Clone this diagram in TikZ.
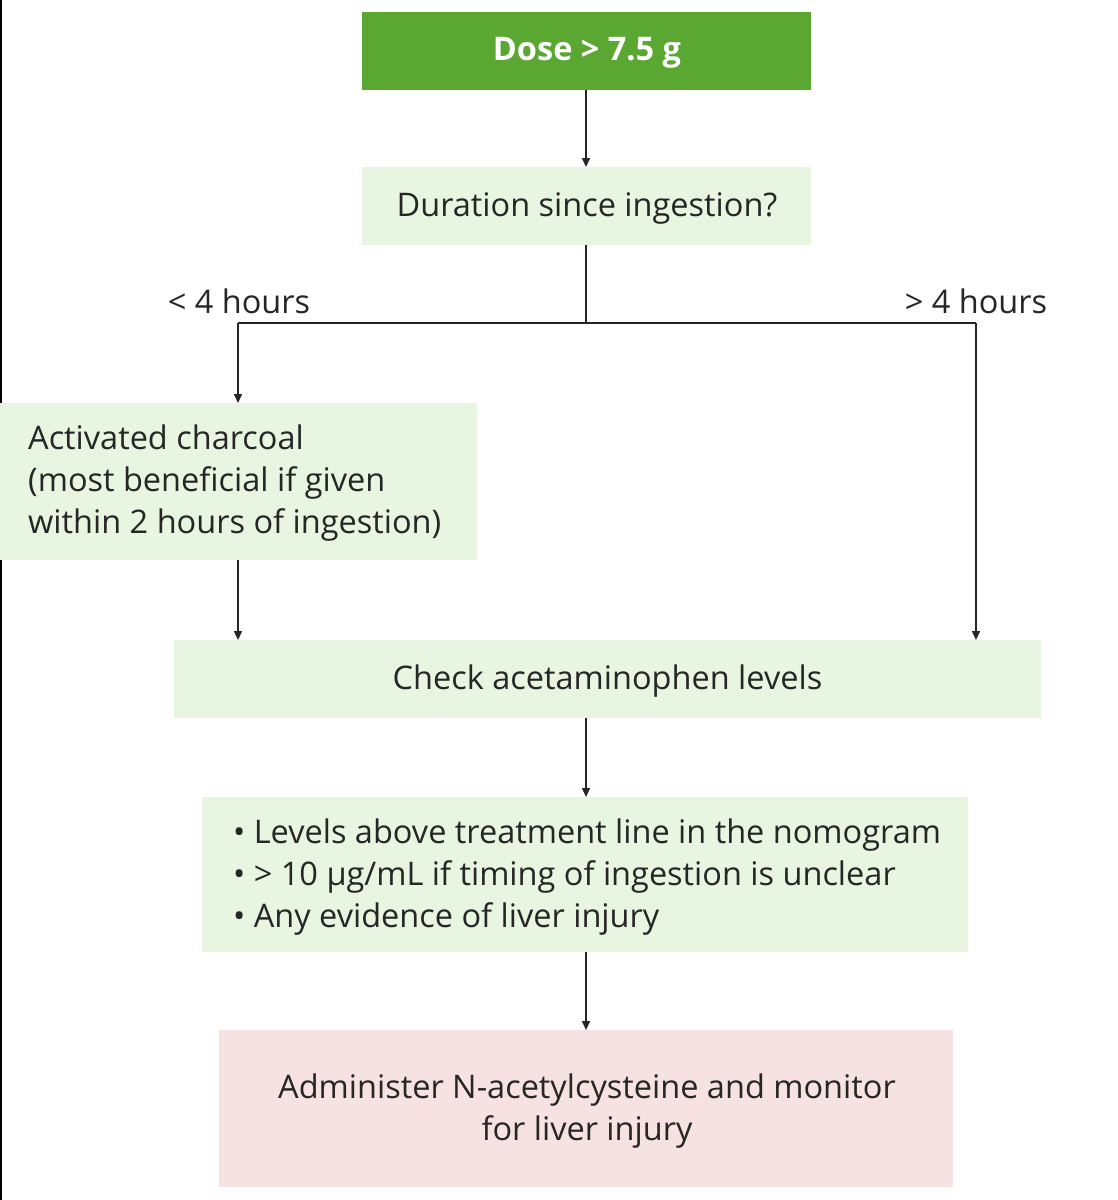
\documentclass[tikz,border=0pt]{standalone}
\usepackage{fontspec}
\setmainfont{Open Sans}
\usetikzlibrary{arrows.meta}
\definecolor{dosegreen}{HTML}{5AA832}
\definecolor{lightgreen}{HTML}{E8F5E1}
\definecolor{lightpink}{HTML}{F6E1E3}
\definecolor{txt}{HTML}{262626}
\begin{document}
\begin{tikzpicture}[x=1pt,y=-1pt,
  box/.style={inner sep=0pt, outer sep=0pt, text=txt},
  lbl/.style={inner sep=0pt, text=txt, font=\fontsize{32.5}{42}\selectfont},
  conn/.style={line width=1.5pt, draw=txt},
  arr/.style={conn, -{Triangle[length=9pt,width=8pt]}}]
\useasboundingbox (0,0) rectangle (1117,1200);
\fill[white] (0,0) rectangle (1117,1200);
\draw[line width=2.5pt, black] (1,0) -- (1,1200);
% boxes
\fill[dosegreen] (362,12) rectangle (811,90);
\node[box, text=white, font=\fontsize{32.5}{36}\selectfont\bfseries] (dose) at (587,53) {Dose > 7.5 g};
\coordinate (doseB) at (586,90);
\fill[lightgreen] (362,167) rectangle (811,245);
\node[lbl] (dur) at (587,208) {Duration since ingestion?};
\coordinate (durT) at (586,167);
\coordinate (durB) at (586,245);
\fill[lightgreen] (0,403) rectangle (477,560);
\node[lbl, anchor=west, align=left] (char) at (28,483) {Activated charcoal\\(most beneficial if given\\within 2 hours of ingestion)};
\coordinate (charT) at (238,403);
\coordinate (charB) at (238,560);
\fill[lightgreen] (174,640) rectangle (1041,718);
\node[lbl] (check) at (607.5,681) {Check acetaminophen levels};
\coordinate (checkTL) at (238,640);
\coordinate (checkTR) at (976,640);
\coordinate (checkB) at (586,718);
\fill[lightgreen] (202,797) rectangle (968,952);
\node[lbl, anchor=west, align=left] (crit) at (233,877) {\textbullet\ Levels above treatment line in the nomogram\\\textbullet\ > 10 µg/mL if timing of ingestion is unclear\\\textbullet\ Any evidence of liver injury};
\coordinate (critT) at (586,797);
\coordinate (critB) at (586,952);
\fill[lightpink] (219,1030) rectangle (953,1187);
\node[lbl, align=center] (nac) at (587,1111) {Administer N-acetylcysteine and monitor\\for liver injury};
\coordinate (nacT) at (586,1030);
% labels
\node[lbl] (lt) at (239,301) {< 4 hours};
\node[lbl] (gt) at (976,301) {> 4 hours};
% connectors
\coordinate (split) at (586,323);
\coordinate (splitL) at (238,323);
\coordinate (splitR) at (976,323);
\draw[arr] (doseB) -- (durT);
\draw[conn] (durB) -- (split);
\draw[conn] (splitL) -- (splitR);
\draw[arr] (splitL) -- (charT);
\draw[arr] (splitR) -- (checkTR);
\draw[arr] (charB) -- (checkTL);
\draw[arr] (checkB) -- (critT);
\draw[arr] (critB) -- (nacT);
\end{tikzpicture}
\end{document}
